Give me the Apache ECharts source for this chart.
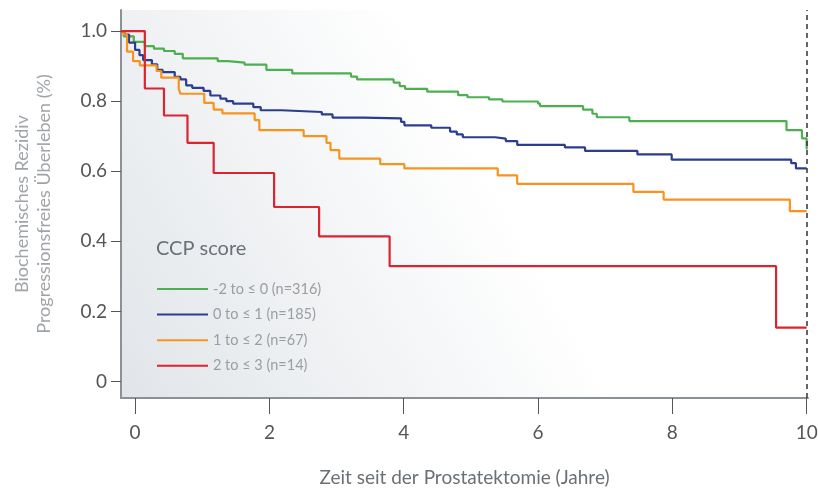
<!DOCTYPE html>
<html>
<head>
<meta charset="utf-8">
<script src="https://cdn.jsdelivr.net/npm/echarts@6/dist/echarts.min.js"></script>
<style>html,body{margin:0;padding:0;background:#fff}#c{width:818px;height:490px}</style>
</head>
<body>
<div id="c"></div>
<script>
const seriesNames = ['-2 to \u2264 0 (n=316)', '0 to \u2264 1 (n=185)', '1 to \u2264 2 (n=67)', '2 to \u2264 3 (n=14)'];
const seriesColors = ['#4caf50', '#2b3e8e', '#f7941e', '#dc2430'];
const xTicks = [0, 2, 4, 6, 8, 10];
const yTicks = [0, 0.2, 0.4, 0.6, 0.8, 1.0];

const greenT = [-0.21,-0.17,-0.02,0.145,0.28,0.43,0.59,0.71,1.23,1.385,1.63,1.955,2.34,3.215,3.305,3.85,3.94,4.02,4.35,4.81,4.95,5.27,5.47,6.0,6.03,6.67,6.81,6.875,7.36,9.70,9.93,10.0];
const greenS = [1.0,0.985,0.969,0.957,0.950,0.943,0.935,0.922,0.914,0.910,0.904,0.889,0.879,0.870,0.862,0.853,0.843,0.835,0.827,0.817,0.811,0.805,0.799,0.793,0.786,0.776,0.764,0.754,0.743,0.717,0.694,0.662];

const blueT = [-0.21,-0.16,-0.09,0.0,0.065,0.12,0.25,0.33,0.41,0.59,0.675,0.76,0.85,1.02,1.12,1.27,1.36,1.46,1.76,1.87,2.18,2.78,2.94,3.39,3.96,4.01,4.41,4.69,4.79,4.88,5.36,5.52,5.69,6.40,6.70,7.48,7.99,9.77,9.84,10.0];
const blueS = [1.0,0.99,0.967,0.946,0.931,0.917,0.905,0.889,0.883,0.869,0.862,0.845,0.838,0.829,0.816,0.807,0.800,0.793,0.783,0.774,0.769,0.762,0.753,0.751,0.741,0.731,0.724,0.713,0.705,0.697,0.693,0.686,0.675,0.668,0.658,0.648,0.633,0.623,0.608,0.608];

const orangeT = [-0.21,-0.17,-0.12,-0.03,0.07,0.32,0.39,0.65,0.675,1.03,1.17,1.30,1.78,1.85,2.51,2.85,2.91,3.04,3.65,4.01,5.40,5.69,7.42,7.87,9.75,10.0];
const orangeS = [1.0,0.99,0.941,0.914,0.902,0.886,0.867,0.835,0.821,0.795,0.776,0.765,0.746,0.717,0.700,0.681,0.660,0.636,0.620,0.608,0.588,0.564,0.541,0.519,0.486,0.486];

const redT = [-0.21,0.145,0.43,0.78,1.17,2.07,2.74,3.79,9.545,10.0];
const redS = [1.0,0.836,0.759,0.681,0.595,0.498,0.414,0.329,0.154,0.154];

const times = [greenT, blueT, orangeT, redT];
const surv = [greenS, blueS, orangeS, redS];

const FONT = 'Lato';
const chart = echarts.init(document.getElementById('c'), null, {renderer: 'canvas'});

const series = seriesNames.map((name, i) => ({
  name: name,
  type: 'line',
  step: 'end',
  symbol: 'none',
  data: times[i].map((t, k) => [t, surv[i][k]]),
  color: seriesColors[i],
  lineStyle: {width: 2.2, color: seriesColors[i]},
  z: 3 + i
}));
series[0].markLine = {
  silent: true,
  symbol: 'none',
  label: {show: false},
  lineStyle: {type: [5, 4], color: '#333', width: 1.5},
  data: [{xAxis: 10}]
};

chart.setOption({
  animation: false,
  title: {
    text: 'CCP score',
    left: 151,
    top: 234,
    textStyle: {fontFamily: FONT, fontSize: 20, fontWeight: 'normal', color: '#6b7075'}
  },
  legend: {
    data: seriesNames,
    orient: 'vertical',
    left: 152,
    top: 276,
    icon: 'rect',
    itemWidth: 51,
    itemHeight: 2,
    itemGap: 9.6,
    textStyle: {fontFamily: FONT, fontSize: 14.5, color: '#9a9ea2', lineHeight: 16}
  },
  grid: {
    left: 121, right: 10, top: 10, bottom: 92,
    containLabel: false,
    outerBoundsMode: 'none',
    show: true,
    borderWidth: 0,
    backgroundColor: {
      type: 'linear', x: 0, y: 1, x2: 1, y2: 0,
      colorStops: [{offset: 0, color: '#e1e5e9'}, {offset: 0.55, color: '#ffffff'}, {offset: 1, color: '#ffffff'}]
    }
  },
  xAxis: {
    type: 'value',
    min: -0.21,
    max: 10.02,
    name: 'Zeit seit der Prostatektomie (Jahre)',
    nameLocation: 'middle',
    nameGap: 70,
    nameTextStyle: {fontFamily: FONT, fontSize: 19, color: '#6b7075'},
    axisLine: {show: true, onZero: false, lineStyle: {color: '#8c9196', width: 2}},
    axisTick: {show: true, length: 16, customValues: xTicks, lineStyle: {color: '#555', width: 1}},
    axisLabel: {customValues: xTicks, margin: 25, fontFamily: FONT, fontSize: 19, color: '#555'},
    splitLine: {show: false}
  },
  yAxis: {
    type: 'value',
    min: -0.047,
    max: 1.06,
    name: 'Biochemisches Rezidiv\nProgressionsfreies \u00dcberleben (%)',
    nameLocation: 'middle',
    nameGap: 66,
    nameTextStyle: {fontFamily: FONT, fontSize: 18, color: '#a0a4a8', lineHeight: 22},
    axisLine: {show: true, onZero: false, lineStyle: {color: '#8c9196', width: 2}},
    axisTick: {show: true, length: 10, customValues: yTicks, lineStyle: {color: '#555', width: 1}},
    axisLabel: {
      customValues: yTicks, margin: 14, fontFamily: FONT, fontSize: 19, color: '#555',
      padding: [6, 0, 0, 0],
      formatter: v => (Math.abs(v) < 1e-9 ? '0' : v.toFixed(1))
    },
    splitLine: {show: false}
  },
  series: series
});
</script>
</body>
</html>
